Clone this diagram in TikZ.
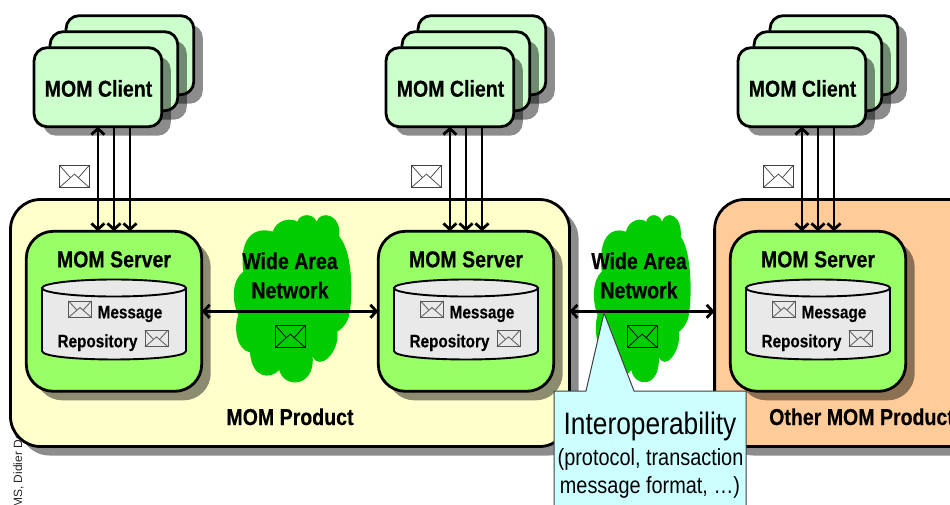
\documentclass[tikz,border=0pt]{standalone}
\usepackage{fontspec}
\setmainfont[FakeStretch=0.85,BoldFeatures={FakeBold=0.35}]{Liberation Sans}
\newfontfamily\plainfont{Liberation Sans}
\usetikzlibrary{shadows,arrows.meta,calc}
\definecolor{clientc}{HTML}{CCFFCC}
\definecolor{serverc}{HTML}{99FF66}
\definecolor{prodc}{HTML}{FFFFCC}
\definecolor{otherc}{HTML}{FFCC99}
\definecolor{cloudc}{HTML}{00CC00}
\definecolor{cylc}{HTML}{E9E9E9}
\definecolor{callc}{HTML}{CCFFFF}
\tikzset{
  shad/.style={drop shadow={shadow xshift=9pt,shadow yshift=-9pt,fill=black,opacity=.45}},
  box/.style={draw=black,line width=2.8pt,outer sep=0pt,inner sep=0pt,shad},
  clientbox/.style={box,fill=clientc,minimum width=127.7pt,minimum height=79pt,rounded corners=13pt},
  serverbox/.style={box,fill=serverc,minimum width=175.4pt,minimum height=160pt,rounded corners=27pt},
  prodbox/.style={box,minimum height=247pt,rounded corners=30pt},
  label/.style={font=\bfseries\fontsize{23}{23}\selectfont,anchor=base,inner sep=0pt,text=black},
  smalllabel/.style={font=\bfseries\fontsize{18}{18}\selectfont,anchor=base,inner sep=0pt,text=black},
  calltext/.style={font=\fontsize{23.4}{24}\selectfont,anchor=base,inner sep=0pt,text=black},
  bigtext/.style={font=\fontsize{31}{31}\selectfont,anchor=base,inner sep=0pt,text=black},
  headed/.style={draw=black,line width=2.8pt,-{Straight Barb[length=6pt,width=13pt,line width=2.8pt]}},
  biheaded/.style={draw=black,line width=2.8pt,{Straight Barb[length=6pt,width=13pt,line width=2.8pt]}-{Straight Barb[length=6pt,width=13pt,line width=2.8pt]}},
  cloudshape/.style={fill=cloudc,draw=none}
}
% envelope: centre x, centre y, width, height, line options, fill
\newcommand\envel[6]{%
  \begin{scope}[shift={(#1,#2)},x=#3pt,y=#4pt]
    \draw[#5,fill=#6,line join=miter] (-.5,-.5) rectangle (.5,.5);
    \draw[#5,line join=miter] (-.5,-.5) -- (0,.1) -- (.5,-.5);
    \draw[#5] (-.5,.5) -- (-.13,-.06);
    \draw[#5] (.5,.5) -- (.13,-.06);
  \end{scope}}
\newcommand\cloudpath{%
  (232,50) .. controls (240,24) and (280,24) .. (290,50)
  .. controls (300,15) and (365,25) .. (358,95)
  .. controls (400,140) and (400,290) .. (385,340)
  .. controls (375,365) and (360,375) .. (352,380)
  .. controls (360,440) and (300,500) .. (278,455)
  .. controls (285,550) and (190,550) .. (178,495)
  .. controls (150,525) and (95,520) .. (90,442)
  .. controls (50,435) and (40,370) .. (55,330)
  .. controls (35,290) and (35,225) .. (70,200)
  .. controls (55,90) and (110,65) .. (158,80)
  .. controls (170,42) and (215,38) .. (232,50) -- cycle}
\begin{document}
\begin{tikzpicture}[x=1pt,y=-1pt]
\useasboundingbox (0,0) rectangle (950,504);
\clip (0,0) rectangle (950,504);
\fill[white] (0,0) rectangle (950,504);
\node[font=\plainfont\fontsize{12}{12}\selectfont,rotate=90,anchor=west,inner sep=0pt,text=black!85] (credit) at (18.5,508) {MS, Didier Do};
% product frames
\node[prodbox,fill=prodc,minimum width=559pt] (p1) at (290,323) {};
\node[prodbox,fill=otherc,minimum width=340pt] (p2) at (884.6,323) {};
% clouds
\begin{scope}[shift={(220,205)},x=.3333pt,y=-.3333pt]
  \path[cloudshape] \cloudpath;
\end{scope}
\begin{scope}[shift={(582.5,205)},x=.2743pt,y=-.3333pt]
  \path[cloudshape] \cloudpath;
\end{scope}
% three client / server groups
\foreach \i/\dx in {1/0,2/352,3/704}{
  \node[clientbox] (cc\i) at (129.9+\dx,55.2) {};
  \node[clientbox] (cb\i) at (113.9+\dx,71.2) {};
  \node[clientbox] (c\i) at (97.9+\dx,87.2) {};
  \node[serverbox] (s\i) at (114+\dx,311.3) {};
  \node[label] (cl\i) at (98.5+\dx,96.7) {MOM Client};
  \node[label] (sl\i) at (114+\dx,267.3) {MOM Server};
  \envel{74.4+\dx}{176.4}{30}{22.4}{draw=black!75,line width=.7pt}{white}
  % repository
  \begin{scope}[shift={(\dx,0)}]
    \path[draw=black,line width=1.9pt,fill=cylc]
      (42,288) -- (42,351) .. controls (42,362.3) and (186,362.3) .. (186,351) -- (186,288) -- cycle;
    \draw[black,line width=1.9pt,fill=cylc] (114,288) ellipse [x radius=72pt,y radius=8.5pt];
  \end{scope}
  \envel{80+\dx}{309.2}{23}{16.6}{draw=black!65,line width=.8pt}{cylc}
  \envel{156.5+\dx}{338.5}{23}{16.6}{draw=black!65,line width=.8pt}{cylc}
  \node[smalllabel] (ml\i) at (130+\dx,318.3) {Message};
  \node[smalllabel] (rl\i) at (97.5+\dx,347.3) {Repository};
  % client to server links
  \draw[biheaded] (c\i.south) -- (c\i.south |- s\i.north);
  \draw[headed] (s\i.north |- c\i.south) -- (s\i.north);
  \draw[headed] ($(s\i.north |- c\i.south)+(16,0)$) -- ($(s\i.north)+(16,0)$);
}
% cloud contents and links
\envel{290.3}{336.4}{30}{22.4}{draw=black,line width=.8pt}{cloudc}
\envel{642.2}{336.4}{30}{22.4}{draw=black,line width=.8pt}{cloudc}
\draw[biheaded] (s1.east) -- (s2.west);
\draw[biheaded] (p1.east |- s2.east) -- (p2.west |- s2.east);
\node[label] (wa1) at (290,269) {Wide Area};
\node[label] (nw1) at (290,298.3) {Network};
\node[label] (wa2) at (639,269) {Wide Area};
\node[label] (nw2) at (639,298.3) {Network};
\node[label] (pl1) at (290,425) {MOM Product};
\node[label,anchor=base west] (pl2) at (769,425) {Other MOM Product};
% callout
\draw[draw=black!75,line width=1pt,fill=callc,line join=miter]
  (554,391) -- (586,391) -- (604,313) -- (634,391) -- (746,391) -- (746,520) -- (554,520) -- cycle;
\node[bigtext] (io) at (650,434) {Interoperability};
\node[calltext] (pr) at (650.5,465) {(protocol, transaction};
\node[calltext] (mf) at (650,493) {message format, …)};
\end{tikzpicture}
\end{document}
